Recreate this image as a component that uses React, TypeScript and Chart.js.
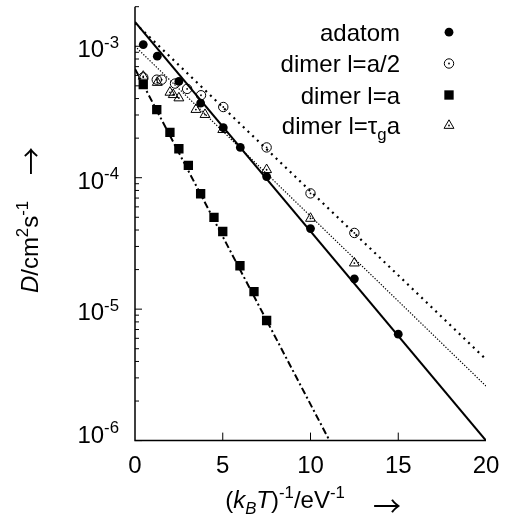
import { useEffect, useRef } from 'react';
import { Chart, registerables } from 'chart.js';
Chart.register(...registerables);

// ---- data ----
const adatomX = [0.47, 1.27, 2.5, 3.74, 5.03, 6.0, 7.5, 10, 12.5, 15];
const adatomD = [1.03e-3, 8.4e-4, 5.4e-4, 3.7e-4, 2.4e-4, 1.7e-4, 1.02e-4, 4.1e-5, 1.7e-5, 6.45e-6];
const halfX = [0.47, 1.24, 1.52, 2.28, 2.97, 3.76, 5.03, 7.5, 10, 12.5];
const halfD = [5.8e-4, 5.57e-4, 5.57e-4, 5.2e-4, 4.74e-4, 4.24e-4, 3.45e-4, 1.7e-4, 7.6e-5, 3.8e-5];
const fullX = [0.47, 1.24, 1.99, 2.5, 3.04, 3.74, 4.5, 5.0, 5.98, 6.78, 7.5];
const fullD = [5.1e-4, 3.3e-4, 2.21e-4, 1.66e-4, 1.24e-4, 7.55e-5, 4.99e-5, 3.9e-5, 2.14e-5, 1.36e-5, 8.2e-6];
const tauX = [0.47, 1.27, 1.99, 2.18, 2.5, 3.47, 3.99, 5.0, 7.5, 10, 12.5];
const tauD = [5.9e-4, 5.3e-4, 4.46e-4, 4.28e-4, 4.04e-4, 3.3e-4, 3.02e-4, 2.32e-4, 1.15e-4, 4.9e-5, 2.24e-5];

const fitX = [0, 20];
const adatomFit = [1.53e-3, 1.0e-6];
const halfFit = [1.5e-3, 4.15e-6];
const tauFit = [1.0e-3, 2.6e-6];
const fullFit = [6.73e-4, 5.3e-9];

const xTicks = [0, 5, 10, 15, 20];
const yDecades = [-6, -5, -4, -3];
const legendLabels = ['adatom', 'dimer l=a/2', 'dimer l=a', 'dimer l=τga'];

const FAM = '"Liberation Sans", Arial, Helvetica, sans-serif';

type Seg = { t: string; it?: boolean; sup?: boolean; sub?: boolean };

function segFont(s: Seg, size: number) {
  return `${s.it ? 'italic ' : ''}${s.sup || s.sub ? size * 0.7 : size}px ${FAM}`;
}

function drawRich(ctx: CanvasRenderingContext2D, segs: Seg[], x: number, y: number, size: number, align: 'left' | 'right' | 'center') {
  ctx.save();
  ctx.textAlign = 'left';
  ctx.textBaseline = 'alphabetic';
  ctx.fillStyle = '#000';
  const widths = segs.map((s) => {
    ctx.font = segFont(s, size);
    return ctx.measureText(s.t).width;
  });
  const total = widths.reduce((a, b) => a + b, 0);
  let cx = align === 'left' ? x : align === 'right' ? x - total : x - total / 2;
  segs.forEach((s, i) => {
    ctx.font = segFont(s, size);
    const dy = s.sup ? -size * 0.4 : s.sub ? size * 0.25 : 0;
    ctx.fillText(s.t, cx, y + dy);
    cx += widths[i];
  });
  ctx.restore();
}

function drawArrow(ctx: CanvasRenderingContext2D, x: number, y: number) {
  ctx.save();
  ctx.font = '28px "Noto Sans CJK JP", "DejaVu Sans", sans-serif';
  ctx.textAlign = 'center';
  ctx.textBaseline = 'middle';
  ctx.fillStyle = '#000';
  ctx.fillText('→', x, y);
  ctx.restore();
}

function pts(xs: number[], ys: number[]) {
  return xs.map((x, i) => ({ x, y: ys[i] }));
}

function drawMarker(ctx: CanvasRenderingContext2D, kind: number, x: number, y: number) {
  ctx.save();
  ctx.fillStyle = '#000';
  ctx.strokeStyle = '#000';
  ctx.lineWidth = 1;
  if (kind === 0) {
    ctx.beginPath();
    ctx.arc(x, y, 4.4, 0, Math.PI * 2);
    ctx.fill();
  } else if (kind === 1) {
    ctx.beginPath();
    ctx.arc(x, y, 4.7, 0, Math.PI * 2);
    ctx.stroke();
    ctx.beginPath();
    ctx.arc(x, y, 0.9, 0, Math.PI * 2);
    ctx.fill();
  } else if (kind === 2) {
    const h = 6.6 * Math.SQRT1_2;
    ctx.fillRect(x - h, y - h, 2 * h, 2 * h);
  } else {
    const r = 5.7;
    ctx.beginPath();
    ctx.moveTo(x, y - r);
    ctx.lineTo(x + r * Math.cos(Math.PI / 6), y + r / 2);
    ctx.lineTo(x - r * Math.cos(Math.PI / 6), y + r / 2);
    ctx.closePath();
    ctx.stroke();
    ctx.beginPath();
    ctx.arc(x, y, 0.9, 0, Math.PI * 2);
    ctx.fill();
  }
  ctx.restore();
}

const decorPlugin = {
  id: 'decor',
  afterDraw(chart: any) {
    const ctx: CanvasRenderingContext2D = chart.ctx;
    const xs = chart.scales.x;
    const ys = chart.scales.y;
    const area = chart.chartArea;
    ctx.save();
    ctx.strokeStyle = '#000';
    ctx.lineWidth = 1.5;
    ctx.beginPath();
    ctx.moveTo(area.left, area.top);
    ctx.lineTo(area.left, area.bottom);
    ctx.lineTo(area.right, area.bottom);
    ctx.stroke();
    ctx.lineWidth = 1;
    yDecades.forEach((d) => {
      for (let m = 1; m <= 9; m++) {
        const v = m * Math.pow(10, d);
        if (v < ys.min * 0.999 || v > ys.max * 1.001) continue;
        const py = ys.getPixelForValue(v);
        const len = m === 1 ? 7 : 4;
        ctx.beginPath();
        ctx.moveTo(area.left, py);
        ctx.lineTo(area.left + len, py);
        ctx.stroke();
      }
    });
    xTicks.forEach((t) => {
      const px = xs.getPixelForValue(t);
      if (t > xs.min && t < xs.max) {
        ctx.beginPath();
        ctx.moveTo(px, area.bottom);
        ctx.lineTo(px, area.bottom - 8);
        ctx.stroke();
      }
    });
    ctx.restore();

    const size = 24;
    yDecades.forEach((d) => {
      const py = ys.getPixelForValue(Math.pow(10, d));
      const base = Math.min(py + 11, area.bottom + 2);
      drawRich(ctx, [{ t: '10' }, { t: String(d), sup: true }], area.left - 16, base, size, 'right');
    });
    xTicks.forEach((t) => {
      const px = xs.getPixelForValue(t);
      drawRich(ctx, [{ t: String(t) }], px, area.bottom + 32, size, 'center');
    });
    drawRich(
      ctx,
      [
        { t: '(' },
        { t: 'k', it: true },
        { t: 'B', it: true, sub: true },
        { t: 'T', it: true },
        { t: ')' },
        { t: '-1', sup: true },
        { t: '/eV' },
        { t: '-1', sup: true },
      ],
      285,
      508,
      size,
      'center'
    );
    drawArrow(ctx, 387, 506);
    ctx.save();
    ctx.translate(38, 247);
    ctx.rotate(-Math.PI / 2);
    drawRich(
      ctx,
      [{ t: 'D', it: true }, { t: '/cm' }, { t: '2', sup: true }, { t: 's' }, { t: '-1', sup: true }],
      0,
      0,
      size,
      'center'
    );
    drawArrow(ctx, 86, -7);
    ctx.restore();

    const baselines = [40.7, 72, 103.5, 134];
    legendLabels.forEach((lab, i) => {
      const segs: Seg[] =
        i === 3 ? [{ t: 'dimer l=τ' }, { t: 'g', sub: true }, { t: 'a' }] : [{ t: lab }];
      drawRich(ctx, segs, 400, baselines[i], size, 'right');
      drawMarker(ctx, i, 449, baselines[i] - 8.5);
    });
  },
};

export default function App() {
  const ref = useRef<HTMLCanvasElement | null>(null);
  useEffect(() => {
    if (!ref.current) return;
    const lineDs = (data: number[], dash: number[], width: number) => ({
      data: pts(fitX, data),
      showLine: true,
      borderColor: '#000',
      borderWidth: width,
      borderDash: dash,
      pointRadius: 0,
      fill: false,
    });
    const dotDs = (xs: number[], ys: number[]) => ({
      data: pts(xs, ys),
      pointStyle: 'circle',
      pointRadius: 0.9,
      backgroundColor: '#000',
      borderWidth: 0,
    });
    const chart = new Chart(ref.current, {
      type: 'scatter',
      data: {
        datasets: [
          lineDs(adatomFit, [], 2),
          lineDs(halfFit, [2, 4.5], 2.2),
          lineDs(tauFit, [1.3, 1.6], 1.2),
          lineDs(fullFit, [7, 3, 2, 3], 2),
          {
            data: pts(adatomX, adatomD),
            pointStyle: 'circle',
            pointRadius: 4.4,
            backgroundColor: '#000',
            borderColor: '#000',
            borderWidth: 0,
          },
          {
            data: pts(halfX, halfD),
            pointStyle: 'circle',
            pointRadius: 4.7,
            backgroundColor: 'rgba(255,255,255,0)',
            borderColor: '#000',
            borderWidth: 1,
          },
          dotDs(halfX, halfD),
          {
            data: pts(fullX, fullD),
            pointStyle: 'rect',
            pointRadius: 6.6,
            backgroundColor: '#000',
            borderColor: '#000',
            borderWidth: 0,
          },
          {
            data: pts(tauX, tauD),
            pointStyle: 'triangle',
            pointRadius: 5.7,
            backgroundColor: 'rgba(255,255,255,0)',
            borderColor: '#000',
            borderWidth: 1,
          },
          dotDs(tauX, tauD),
        ] as any,
      },
      options: {
        responsive: false,
        animation: false,
        layout: { padding: { top: 6.7, right: 24, left: 0, bottom: 0 } },
        plugins: { legend: { display: false }, tooltip: { enabled: false } },
        scales: {
          x: {
            type: 'linear',
            min: 0,
            max: 20,
            grid: { display: false },
            border: { display: false },
            ticks: { display: false },
            afterFit: (s: any) => {
              s.height = 514 - 440.6;
            },
          },
          y: {
            type: 'logarithmic',
            min: 1e-6,
            max: 2e-3,
            grid: { display: false },
            border: { display: false },
            ticks: { display: false },
            afterFit: (s: any) => {
              s.width = 135;
            },
          },
        },
      } as any,
      plugins: [decorPlugin],
    });
    return () => chart.destroy();
  }, []);
  return (
    <div style={{ position: 'fixed', left: 0, top: 0, width: 510, height: 514, background: '#fff' }}>
      <canvas ref={ref} width={510} height={514} />
    </div>
  );
}
